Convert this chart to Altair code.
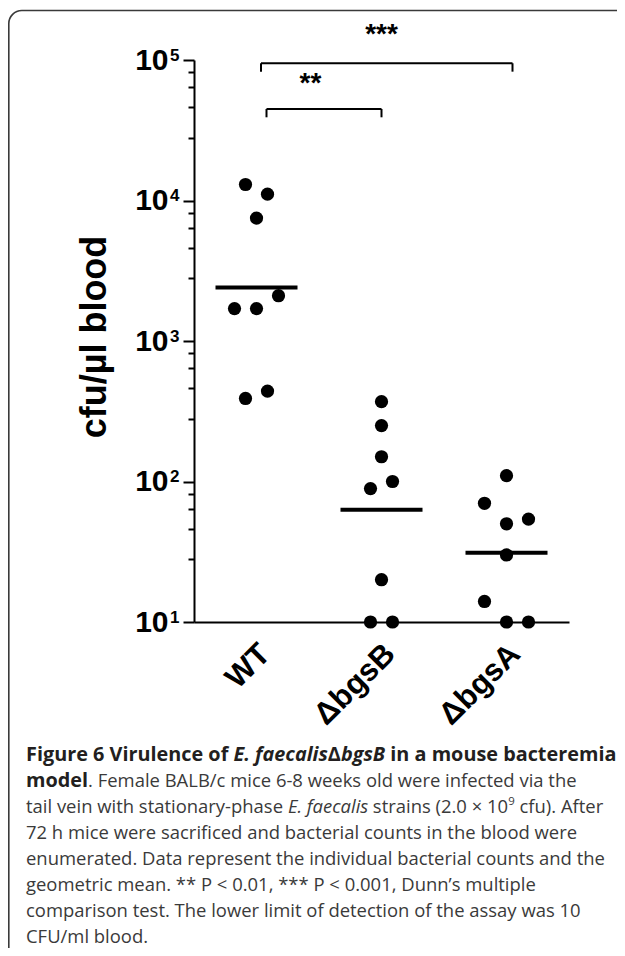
import glob
import os
import struct

import altair as alt
import numpy as np
import pandas as pd

# ---------------- data ----------------
categories = ["WT", "ΔbgsB", "ΔbgsA"]

wt_values = [13000, 11100, 7500, 2100, 1700, 1700, 390, 440]
wt_slots = [-1, 1, 0, 2, -2, 0, -1, 1]
bgsb_values = [370, 250, 150, 89, 100, 20, 10, 10]
bgsb_slots = [0, 0, 0, -1, 1, 0, -1, 1]
bgsa_values = [110, 70, 50, 54, 30, 14, 10, 10]
bgsa_slots = [0, -2, 0, 2, 0, -2, 0, 2]

y_ticks = [10, 100, 1000, 10000, 100000]
y_tick_base = "10"
y_tick_exp = ["1", "2", "3", "4", "5"]
y_minor_factors = [2.8, 4.6, 6.4, 8.2]
y_title = "cfu/µl blood"

bracket_from = ["WT", "WT"]
bracket_to = ["ΔbgsA", "ΔbgsB"]
bracket_level = [94800, 44800]
bracket_foot = [82600, 39100]
bracket_stars = ["***", "**"]
bracket_star_level = [150000, 68000]
bracket_star_cat = ["ΔbgsB", "WT"]

caption_lines = [
    [("Figure 6 Virulence of ", "b"), ("E. faecalis", "bi"), ("Δ", "b"), ("bgsB", "bi"), (" in a mouse bacteremia", "b")],
    [("model", "b"), (". Female BALB/c mice 6-8 weeks old were infected via the", "r")],
    [("tail vein with stationary-phase ", "r"), ("E. faecalis", "i"), (" strains (2.0 × 10", "r"), ("9", "sup"), (" cfu). After", "r")],
    [("72 h mice were sacrificed and bacterial counts in the blood were", "r")],
    [("enumerated. Data represent the individual bacterial counts and the", "r")],
    [("geometric mean. ** P < 0.01, *** P < 0.001, Dunn’s multiple", "r")],
    [("comparison test. The lower limit of detection of the assay was 10", "r")],
    [("CFU/ml blood.", "r")],
]

# ---------------- layout (pixels) ----------------
PAD_L, PAD_T, W, H = 186, 52, 375, 562
PAD_R = 609 - PAD_L - W
PAD_B = 940 - PAD_T - H


def lx(px):
    return px - 8 - PAD_L


def ly(py):
    return py - 8 - PAD_T


CAP_LEFT = 26
CAP_BASE0, CAP_STEP = 761.0, 26.0
bracket_off = [(4.5, 6), (10, 0)]
star_dx = [0, 54]


# ---------------- font metrics for chaining caption segments ----------------
class FontMetrics:
    def __init__(self, path):
        with open(path, "rb") as f:
            data = f.read()
        self.data = data
        n = struct.unpack(">H", data[4:6])[0]
        tables = {}
        for i in range(n):
            rec = data[12 + 16 * i: 28 + 16 * i]
            off, length = struct.unpack(">II", rec[8:16])
            tables[rec[:4].decode("latin-1")] = off
        head = tables["head"]
        self.upem = struct.unpack(">H", data[head + 18: head + 20])[0]
        hhea = tables["hhea"]
        nhm = struct.unpack(">H", data[hhea + 34: hhea + 36])[0]
        hm = tables["hmtx"]
        self.adv = [struct.unpack(">H", data[hm + 4 * i: hm + 4 * i + 2])[0] for i in range(nhm)]
        base = tables["cmap"]
        nt = struct.unpack(">H", data[base + 2: base + 4])[0]
        sub = None
        for i in range(nt):
            pid, eid, off = struct.unpack(">HHI", data[base + 4 + 8 * i: base + 12 + 8 * i])
            fmt = struct.unpack(">H", data[base + off: base + off + 2])[0]
            if fmt == 4 and sub is None:
                sub = base + off
        o = sub
        seg2 = struct.unpack(">H", data[o + 6: o + 8])[0]
        seg = seg2 // 2
        self.ends = struct.unpack(">%dH" % seg, data[o + 14: o + 14 + seg2])
        so = o + 16 + seg2
        self.starts = struct.unpack(">%dH" % seg, data[so: so + seg2])
        do = so + seg2
        self.deltas = struct.unpack(">%dh" % seg, data[do: do + seg2])
        self.ro_off = do + seg2
        self.ros = struct.unpack(">%dH" % seg, data[self.ro_off: self.ro_off + seg2])

    def gid(self, ch):
        c = ord(ch)
        for i, e in enumerate(self.ends):
            if c <= e:
                if c < self.starts[i]:
                    return 0
                if self.ros[i] == 0:
                    return (c + self.deltas[i]) & 0xFFFF
                addr = self.ro_off + 2 * i + self.ros[i] + 2 * (c - self.starts[i])
                g = struct.unpack(">H", self.data[addr: addr + 2])[0]
                return (g + self.deltas[i]) & 0xFFFF if g else 0
        return 0

    def em(self, text):
        tot = 0
        for ch in text:
            g = self.gid(ch)
            tot += self.adv[g] if g < len(self.adv) else self.adv[-1]
        return tot / self.upem


def find_open_sans():
    files = []
    for d in ["/usr/share/fonts", "/usr/local/share/fonts",
              os.path.expanduser("~/.fonts"), os.path.expanduser("~/.local/share/fonts")]:
        files += glob.glob(os.path.join(d, "**", "*.[ot]tf"), recursive=True)
    files = [f for f in files if os.path.basename(f).lower().startswith("opensans")]
    want = {"r": "opensans-regular", "b": "opensans-bold", "i": "opensans-italic",
            "bi": "opensans-bolditalic"}
    found = {}
    for key, stem in want.items():
        for f in sorted(files):
            nm = os.path.splitext(os.path.basename(f))[0].lower()
            if nm == stem:
                found[key] = f
    return found


FALLBACK_EM = {"r": 0.50, "i": 0.47, "b": 0.535, "bi": 0.52}
metrics = {}
try:
    for k, p in find_open_sans().items():
        try:
            metrics[k] = FontMetrics(p)
        except Exception:
            pass
except Exception:
    pass


def em_width(text, st):
    key = "r" if st == "sup" else st
    if key in metrics:
        return metrics[key].em(text)
    if key == "bi" and "b" in metrics:
        return metrics["b"].em(text) * 0.97
    if key == "i" and "r" in metrics:
        return metrics["r"].em(text) * 0.95
    if key in ("b", "bi") and "r" in metrics:
        return metrics["r"].em(text) * 1.07
    return len(text) * FALLBACK_EM[key]


# font sizes chosen so that the reference line ends are met
reg_em = em_width(caption_lines[4][0][0], "r")
REG_SIZE = min(19.5, max(17.0, (605 - CAP_LEFT) / reg_em))
bold_em = sum(em_width(t, s) for t, s in caption_lines[0])
BOLD_SIZE = min(21.0, max(18.0, (616.5 - CAP_LEFT) / bold_em))
SUP_SIZE = round(REG_SIZE * 0.62, 1)

styles = {
    "b": dict(fontWeight="bold", fontStyle="normal", fontSize=BOLD_SIZE, color="#231f20"),
    "bi": dict(fontWeight="bold", fontStyle="italic", fontSize=BOLD_SIZE, color="#231f20"),
    "r": dict(fontWeight="normal", fontStyle="normal", fontSize=REG_SIZE, color="#3a3a3a"),
    "i": dict(fontWeight="normal", fontStyle="italic", fontSize=REG_SIZE, color="#3a3a3a"),
    "sup": dict(fontWeight="normal", fontStyle="normal", fontSize=SUP_SIZE, color="#3a3a3a"),
}

# ---------------- tables ----------------
strain = ([categories[0]] * len(wt_values) + [categories[1]] * len(bgsb_values)
          + [categories[2]] * len(bgsa_values))
dots = pd.DataFrame({
    "strain": strain,
    "value": wt_values + bgsb_values + bgsa_values,
    "slot": wt_slots + bgsb_slots + bgsa_slots,
})
gm = (dots.groupby("strain", sort=False)["value"]
      .apply(lambda v: float(np.exp(np.mean(np.log(v)))))
      .reset_index(name="gmean"))

x_scale = alt.Scale(type="band", domain=categories, paddingInner=0, paddingOuter=0)
y_scale = alt.Scale(type="log", domain=[10, 100000], nice=False)

exp_expr = " : ".join(f"datum.value == {v} ? '{t}'" for v, t in zip(y_ticks, y_tick_exp)) + " : ''"

x_axis = alt.Axis(title=None, domain=True, domainColor="black", domainWidth=2, ticks=False,
                  labelAngle=315, labelAlign="right", labelBaseline="middle",
                  labelFont="Liberation Sans", labelFontSize=31, labelFontWeight="bold",
                  labelColor="black", labelOffset=9, labelPadding=27, grid=False,
                  labelOverlap=False)
y_axis = alt.Axis(values=y_ticks, labelExpr=f"'{y_tick_base}'", orient="left", grid=False,
                  domainColor="black", domainWidth=2, tickColor="black", tickWidth=2,
                  tickSize=11, labelPadding=15, labelFont="Liberation Sans", labelFontSize=30,
                  labelFontWeight="bold", labelColor="black", labelOverlap=False,
                  labelFlush=False, title=y_title, titleFont="Liberation Sans",
                  titleFontSize=36, titleFontWeight="bold", titleColor="black",
                  titleAngle=270, titleAlign="center", titleBaseline="alphabetic",
                  titleX=lx(105), titleY=ly(336.5))
exp_axis = alt.Axis(values=y_ticks, labelExpr=exp_expr, orient="left", grid=False, domain=False,
                    ticks=False, tickSize=0, labelPadding=15, labelFont="Liberation Sans",
                    labelFontSize=17, labelFontWeight="bold", labelColor="black",
                    labelOverlap=False, labelFlush=False, labelOffset=-5, labelAlign="right")
minor_vals = [f * 10 ** k for k in range(1, 5) for f in y_minor_factors]
minor_axis = alt.Axis(values=minor_vals, orient="left", labels=False, domain=False,
                      grid=False, ticks=True, tickSize=6, tickWidth=2, tickColor="black")

layers = []

# border of the figure panel
layers.append(
    alt.Chart(pd.DataFrame({"k": [0]})).mark_rect(
        fill="white", fillOpacity=0, stroke="#3a3a3a", strokeWidth=1.6, cornerRadius=13
    ).encode(x=alt.value(lx(8.8)), x2=alt.value(lx(680)), y=alt.value(ly(10.5)),
             y2=alt.value(ly(1010)))
)

points = alt.Chart(dots).mark_circle(size=175, color="black", opacity=1).encode(
    x=alt.X("strain:N", scale=x_scale, axis=x_axis, title=None),
    xOffset=alt.XOffset("slot:Q", scale=alt.Scale(domain=[-5.68, 5.68], nice=False, zero=False)),
    y=alt.Y("value:Q", scale=y_scale, axis=y_axis),
)
layers.append(points)

means = alt.Chart(gm).mark_tick(size=82, thickness=4, color="black", opacity=1).encode(
    x=alt.X("strain:N", scale=x_scale, title=None),
    y=alt.Y("gmean:Q", scale=y_scale, axis=minor_axis, title=None),
)
layers.append(means)

exps = alt.Chart(pd.DataFrame({"v": y_ticks})).mark_point(opacity=0).encode(
    x=alt.value(0),
    y=alt.Y("v:Q", scale=y_scale, axis=exp_axis, title=None),
)
layers.append(exps)

for i in range(len(bracket_from)):
    bdf = pd.DataFrame({"a": [bracket_from[i]], "b": [bracket_to[i]],
                        "lvl": [bracket_level[i]], "foot": [bracket_foot[i]],
                        "s": [bracket_stars[i]], "sc": [bracket_star_cat[i]],
                        "sl": [bracket_star_level[i]]})
    ol, orr = bracket_off[i]
    layers.append(alt.Chart(bdf).mark_rule(color="black", strokeWidth=2, xOffset=ol, x2Offset=orr).encode(
        x=alt.X("a:N", scale=x_scale, title=None), x2="b:N",
        y=alt.Y("lvl:Q", scale=y_scale, axis=None)))
    layers.append(alt.Chart(bdf).mark_rule(color="black", strokeWidth=2, xOffset=ol).encode(
        x=alt.X("a:N", scale=x_scale, title=None),
        y=alt.Y("lvl:Q", scale=y_scale, axis=None), y2="foot:Q"))
    layers.append(alt.Chart(bdf).mark_rule(color="black", strokeWidth=2, xOffset=orr).encode(
        x=alt.X("b:N", scale=x_scale, title=None),
        y=alt.Y("lvl:Q", scale=y_scale, axis=None), y2="foot:Q"))
    layers.append(alt.Chart(bdf).mark_text(font="Liberation Sans", fontSize=28, fontWeight="bold",
                                           color="black", align="center", baseline="middle",
                                           dx=star_dx[i]).encode(
        x=alt.X("sc:N", scale=x_scale, title=None),
        y=alt.Y("sl:Q", scale=y_scale, axis=None), text="s:N"))

# caption, segments chained along each line
for li, line in enumerate(caption_lines):
    base = CAP_BASE0 + CAP_STEP * li
    cur = CAP_LEFT
    for txt, st in line:
        size = styles[st]["fontSize"]
        stripped = txt.lstrip(" ")
        lead = len(txt) - len(stripped)
        if lead:
            cur += em_width(" " * lead, st) * size
        yy = base - 0.45 * REG_SIZE if st == "sup" else base
        layers.append(
            alt.Chart(pd.DataFrame({"t": [stripped]})).mark_text(
                align="left", baseline="alphabetic", font="Open Sans", **styles[st]
            ).encode(x=alt.value(lx(cur)), y=alt.value(ly(yy)), text="t:N")
        )
        cur += em_width(stripped, st) * size

chart = (
    alt.layer(*layers)
    .resolve_axis(y="independent")
    .properties(width=W, height=H,
                padding={"left": PAD_L, "top": PAD_T, "right": PAD_R, "bottom": PAD_B},
                autosize=alt.AutoSizeParams(type="none"), background="white")
    .configure_view(strokeWidth=0)
)

chart.save("out.html", embed_options={"renderer": "svg", "actions": False})
